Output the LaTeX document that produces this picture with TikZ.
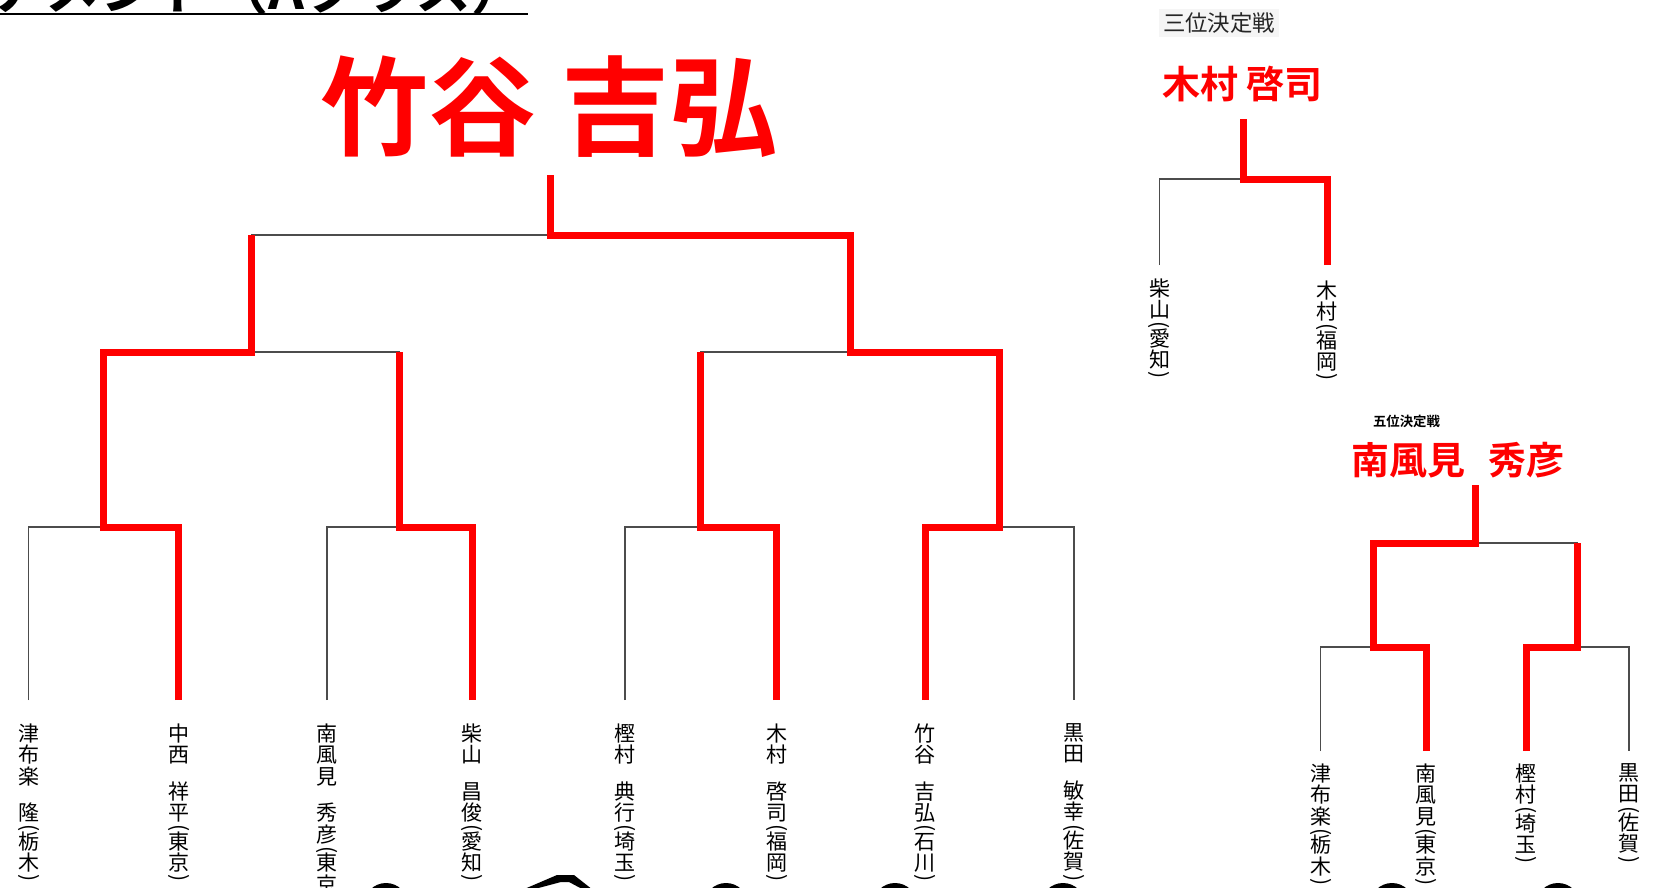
\documentclass[tikz,border=0pt]{standalone}
\usepackage{fontspec}
\setmainfont{Noto Sans CJK JP}[BoldFont={Noto Sans CJK JP Bold}]
\usepackage{graphicx}
\newcommand{\tateopen}{\rotatebox[origin=c]{-90}{(}}
\newcommand{\tateclose}{\rotatebox[origin=c]{-90}{)}}
\newcommand{\pref}[2]{\\[-3.6pt]\tateopen\\[-3.6pt]#1\\#2\\[-3.6pt]\tateclose}

\begin{document}
\begin{tikzpicture}[x=0.5pt, y=-0.5pt,
        lose/.style={draw=black!70, line width=0.7pt},
        win/.style={draw=red, line width=3.5pt, line join=miter},
        player/.style={anchor=north, inner sep=0pt, align=center, font=\fontsize{10.5}{10.75}\selectfont},
        champ/.style={text=red, inner sep=0pt, font=\bfseries\fontsize{#1}{#1}\selectfont}]
        \fill[white] (0,0) rectangle (1665,888);
        \useasboundingbox (0,0) rectangle (1665,888);

        \node[anchor=base east, inner sep=0pt, font=\bfseries\fontsize{28}{28}\selectfont] (title) at (528,10) {トーナメント（Aクラス）};
        \draw[line width=1pt] (0,14) -- (528,14);

        \foreach \i/\x in {1/28.6, 2/178.6, 3/326.8, 4/472, 5/625, 6/776.8, 7/925, 8/1074}
            \coordinate (a\i) at (\x,700);
        \foreach \i/\x in {1/103.6, 2/399.4, 3/700.9, 4/999.5}
            \coordinate (r\i) at (\x,527);
        \coordinate (q1) at (251.5,352);
        \coordinate (q2) at (850.2,352);
        \coordinate (f) at (550.9,235);
        \coordinate (ftop) at (550.9,175);

        \foreach \l/\m/\r in {a1/r1/a2, a3/r2/a4, a5/r3/a6, a7/r4/a8, r1/q1/r2, r3/q2/r4, q1/f/q2}
            \draw[lose] (\l) |- (\m) -| (\r);
        \draw[win] (a2) |- (r1) |- (q1) -- (q1 |- f);
        \draw[win] (a4) |- (r2) -- (r2 |- q1);
        \draw[win] (a6) |- (r3) -- (r3 |- q2);
        \draw[win] (a7) |- (r4) |- (q2) |- (f) -- (ftop);

        \node[champ=54] (w1) at (549,106.5) {竹谷 吉弘};

        \node[player] (n1) at ([yshift=-11.5pt]a1) {津\\布\\楽\\[7.5pt]隆\pref{栃}{木}};
        \node[player] (n2) at ([yshift=-11.5pt]a2) {中\\西\\[7.5pt]祥\\平\pref{東}{京}};
        \node[player] (n3) at ([yshift=-11.5pt]a3) {南\\風\\見\\[7.5pt]秀\\彦\pref{東}{京}};
        \node[player] (n4) at ([yshift=-11.5pt]a4) {柴\\山\\[7.5pt]昌\\俊\pref{愛}{知}};
        \node[player] (n5) at ([yshift=-11.5pt]a5) {樫\\村\\[7.5pt]典\\行\pref{埼}{玉}};
        \node[player] (n6) at ([yshift=-11.5pt]a6) {木\\村\\[7.5pt]啓\\司\pref{福}{岡}};
        \node[player] (n7) at ([yshift=-11.5pt]a7) {竹\\谷\\[7.5pt]吉\\弘\pref{石}{川}};
        \node[player] (n8) at ([yshift=-11.5pt]a8) {黒\\田\\[7.5pt]敏\\幸\pref{佐}{賀}};

        \node[fill=black!4, inner xsep=2pt, inner ysep=1.75pt, text=black!85, font=\fontsize{11.2}{12}\selectfont] (t3) at (1219,23) {三位決定戦};
        \node[champ=19] (w3) at (1242.5,84.5) {木村 啓司};
        \coordinate (b1) at (1159.5,265);
        \coordinate (b2) at (1327,265);
        \coordinate (t) at (1243.2,179);
        \coordinate (ttop) at (1243.2,119);
        \draw[lose] (b1) |- (t) -| (b2);
        \draw[win] (b2) |- (t) -- (ttop);
        \node[player] (m1) at ([yshift=-6.5pt]b1) {柴\\山\pref{愛}{知}};
        \node[player] (m2) at ([yshift=-7.5pt]b2) {木\\村\pref{福}{岡}};

        \node[inner sep=0pt, font=\bfseries\fontsize{6.7}{7}\selectfont] (t5) at (1406.5,421) {五位決定戦};
        \node[champ=19] (w5) at (1458,460) {南風見\hspace{0.62em}秀彦};
        \foreach \i/\x in {1/1320.7, 2/1426, 3/1526, 4/1629}
            \coordinate (c\i) at (\x,751);
        \coordinate (p1) at (1373.4,647);
        \coordinate (p2) at (1577.5,647);
        \coordinate (pf) at (1475.4,543);
        \coordinate (ptop) at (1475.4,485);
        \foreach \l/\m/\r in {c1/p1/c2, c3/p2/c4, p1/pf/p2}
            \draw[lose] (\l) |- (\m) -| (\r);
        \draw[win] (c2) |- (p1) |- (pf) -- (ptop);
        \draw[win] (c3) |- (p2) -- (p2 |- pf);
        \node[player] (k1) at ([yshift=-6pt]c1) {津\\布\\楽\pref{栃}{木}};
        \node[player] (k2) at ([yshift=-6pt]c2) {南\\風\\見\pref{東}{京}};
        \node[player] (k3) at ([yshift=-6pt]c3) {樫\\村\pref{埼}{玉}};
        \node[player] (k4) at ([yshift=-6pt]c4) {黒\\田\pref{佐}{賀}};

        \foreach \x in {386, 726, 895, 1063, 1392, 1558}
            \fill[black] (\x,905) circle (22);
        \fill[black] (522,890) -- (557,875) -- (574,875) -- (593,890) -- (584,890) -- (569,882) -- (561,882) -- (531,890) -- cycle;
    \end{tikzpicture}
\end{document}
